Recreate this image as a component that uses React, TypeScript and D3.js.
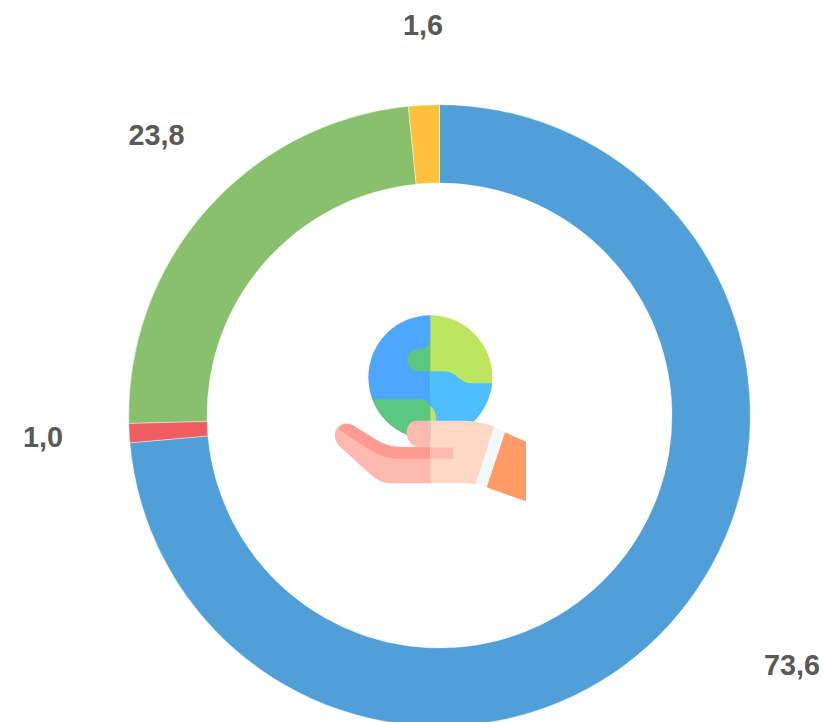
import React from "react";
import * as d3 from "d3";

const categories = ["A", "B", "C", "D"];
const seriesValues = [73.6, 1.0, 23.8, 1.6];
const sliceColors = ["#519fd8", "#ee5d60", "#88c06c", "#ffc13b"];
const labelAnchors: [number, number][] = [[792, 675], [43, 447], [156.5, 145], [423, 34.5]];

const WIDTH = 823;
const HEIGHT = 722;
const CX = 439.5;
const CY = 415.5;
const OUTER = 310.8;
const INNER = 232.5;

const fmt = (v: number) => v.toFixed(1).replace(".", ",");

function Icon() {
  return (
    <g transform="translate(320,300) scale(0.33333)">
      <clipPath id="globeClip">
        <circle cx={331} cy={232} r={186} />
      </clipPath>
      <g clipPath="url(#globeClip)">
        <rect x={140} y={40} width={194} height={400} fill="#4da6ff" />
        <path d="M140,298 L300,298 C320,298 331,310 331,330 L334,330 L334,430 L100,430 Z" fill="#5cc77e" />
        <path d="M334,122 L331,122 C331,140 310,148 292,148 C275,148 263,165 263,180 C263,200 278,214 295,214 L334,214 Z" fill="#5cc77e" />
        <rect x={331} y={40} width={200} height={240} fill="#bee55f" />
        <path d="M331,214 L370,214 C395,214 405,225 420,237 C432,247 445,250 460,250 L530,250 L530,430 L331,430 Z" fill="#4dbeff" />
        <path d="M331,318 C343,325 350,345 348,365 L331,365 Z" fill="#bee55f" />
      </g>
      <path d="M334,550 L215,550 C190,550 170,540 150,522 L60,440 C40,420 40,395 55,380 C70,365 90,370 105,380 L170,420 C190,432 210,440 240,440 L334,440 Z" fill="#fdb9ad" />
      <path d="M55,388 C70,365 90,370 105,380 L170,420 C190,432 210,440 240,442 L334,442 L334,476 L235,476 C200,476 175,465 150,450 Z" fill="#fd9b90" />
      <path d="M331,362 L440,362 C470,364 500,372 525,380 L467,553 L440,550 L331,550 Z" fill="#fed8c5" />
      <path d="M331,362 L290,362 C270,362 260,380 260,398 C260,420 275,440 300,442 L331,442 Z" fill="#fdb9ad" />
      <rect x={331} y={443} width={69} height={33} fill="#fdb9ad" />
      <path d="M522,380 L555,395 L500,562 L467,553 Z" fill="#f0f7fd" />
      <path d="M555,397 L618,425 L618,604 L500,562 Z" fill="#ff9c66" />
    </g>
  );
}

export default function App() {
  const data = categories.map((c, i) => ({ c, v: seriesValues[i], i }));
  const arcs = d3.pie<{ c: string; v: number; i: number }>().sort(null).value((d) => d.v)(data);
  const arc = d3.arc<d3.PieArcDatum<{ c: string; v: number; i: number }>>().innerRadius(INNER).outerRadius(OUTER);
  return (
    <svg
      width={WIDTH}
      height={HEIGHT}
      viewBox={`0 0 ${WIDTH} ${HEIGHT}`}
      style={{ position: "absolute", left: 0, top: 0, background: "#fff" }}
    >
      <g transform={`translate(${CX},${CY})`}>
        {arcs.map((a) => (
          <path key={a.data.c} d={arc(a) as string} fill={sliceColors[a.data.i]} stroke="#fff" strokeWidth={0.4} />
        ))}
      </g>
      <Icon />
      {data.map((d) => (
        <text
          key={d.c}
          x={labelAnchors[d.i][0]}
          y={labelAnchors[d.i][1]}
          textAnchor="middle"
          fontFamily="'Liberation Sans', Arial, sans-serif"
          fontWeight="bold"
          fontSize={28.8}
          fill="#595959"
        >
          {fmt(d.v)}
        </text>
      ))}
    </svg>
  );
}
